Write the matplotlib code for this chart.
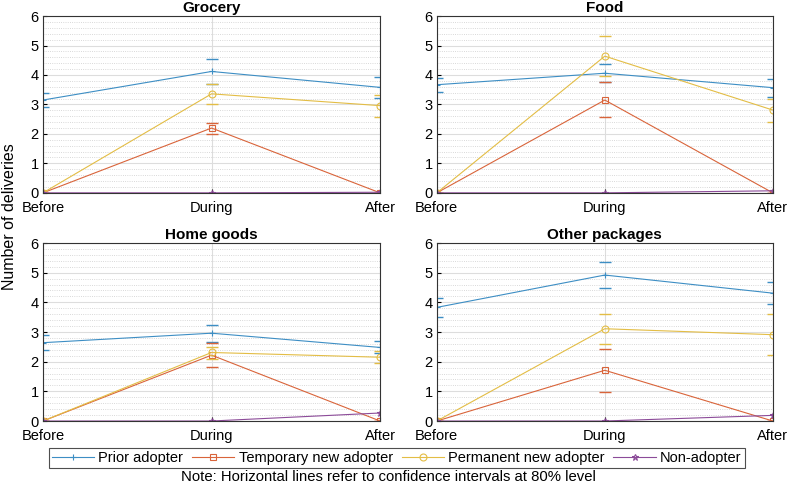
import matplotlib.pyplot as plt
import numpy as np

plt.rcParams['font.family'] = ['Liberation Sans', 'DejaVu Sans']

periods = ['Before', 'During', 'After']
panels = ['Grocery', 'Food', 'Home goods', 'Other packages']
groups = ['Prior adopter', 'Temporary new adopter', 'Permanent new adopter', 'Non-adopter']

# mean values per panel, rows = groups, cols = periods
grocery_mean = [[3.15, 4.12, 3.58], [0.0, 2.20, 0.0], [0.0, 3.36, 2.96], [0.0, 0.0, 0.02]]
grocery_hi = [[3.38, 4.54, 3.93], [0.0, 2.38, 0.0], [0.0, 3.71, 3.32], [0.0, 0.0, 0.02]]
grocery_lo = [[2.90, 3.71, 3.22], [0.0, 2.01, 0.0], [0.0, 3.02, 2.58], [0.0, 0.0, 0.02]]

food_mean = [[3.67, 4.06, 3.57], [0.0, 3.15, 0.0], [0.0, 4.64, 2.81], [0.0, 0.0, 0.07]]
food_hi = [[3.90, 4.39, 3.86], [0.0, 3.76, 0.0], [0.0, 5.32, 3.20], [0.0, 0.0, 0.07]]
food_lo = [[3.42, 3.75, 3.27], [0.0, 2.56, 0.0], [0.0, 3.96, 2.41], [0.0, 0.0, 0.07]]

home_mean = [[2.64, 2.96, 2.48], [0.0, 2.22, 0.0], [0.0, 2.31, 2.15], [0.0, 0.0, 0.27]]
home_hi = [[2.89, 3.24, 2.69], [0.0, 2.63, 0.0], [0.0, 2.50, 2.36], [0.0, 0.0, 0.27]]
home_lo = [[2.39, 2.66, 2.28], [0.0, 1.83, 0.0], [0.0, 2.10, 1.94], [0.0, 0.0, 0.27]]

other_mean = [[3.83, 4.92, 4.31], [0.0, 1.71, 0.0], [0.0, 3.11, 2.91], [0.0, 0.0, 0.19]]
other_hi = [[4.16, 5.36, 4.67], [0.0, 2.44, 0.0], [0.0, 3.60, 3.60], [0.0, 0.0, 0.19]]
other_lo = [[3.50, 4.48, 3.93], [0.0, 0.99, 0.0], [0.0, 2.60, 2.23], [0.0, 0.0, 0.19]]

colors = ['#3d8ec4', '#d9643a', '#e3bd45', '#8c4b99']
markers = ['+', 's', 'o', '*']

fig = plt.figure(figsize=(7.87, 4.87), dpi=100)
rects = [[0.0546, 0.604, 0.4284, 0.363], [0.555, 0.604, 0.427, 0.363],
         [0.0546, 0.1355, 0.4284, 0.3655], [0.555, 0.1355, 0.427, 0.3655]]
data = [(grocery_mean, grocery_hi, grocery_lo), (food_mean, food_hi, food_lo),
        (home_mean, home_hi, home_lo), (other_mean, other_hi, other_lo)]

x = np.arange(len(periods))
handles = []
for k, (title, (m, hi, lo)) in enumerate(zip(panels, data)):
    ax = fig.add_axes(rects[k])
    for g in range(len(groups)):
        h, = ax.plot(x, m[g], color=colors[g], marker=markers[g], ms=5, mfc='none',
                     lw=0.8, mew=0.8, label=groups[g])
        if g < 3:
            ax.plot(x, hi[g], ls='none', marker='_', ms=9, mew=1.0, color=colors[g])
            ax.plot(x, lo[g], ls='none', marker='_', ms=9, mew=1.0, color=colors[g])
        if k == 0:
            handles.append(h)
    ax.set_xlim(0, 2)
    ax.set_ylim(0, 6)
    ax.set_xticks(x)
    ax.set_xticklabels(periods)
    ax.set_yticks(range(7))
    ax.set_yticks(np.arange(0, 6.01, 0.2), minor=True)
    ax.grid(True, which='major', color='#dddddd', lw=0.8)
    ax.grid(True, which='minor', axis='y', color='#cccccc', ls=':', lw=0.6)
    ax.tick_params(labelsize=10.5, length=3, direction='in')
    ax.tick_params(axis='x', pad=6)
    ax.tick_params(axis='y', pad=3)
    ax.tick_params(which='minor', length=0)
    ax.set_axisbelow(True)
    for s in ax.spines.values():
        s.set_color('#333333')
        s.set_linewidth(0.8)
    ax.set_title(title, fontsize=11, fontweight='bold', pad=3)

fig.text(0.012, 0.555, 'Number of deliveries', rotation=90, va='center', ha='center', fontsize=11.5)

leg = fig.legend(handles=handles, loc='center', bbox_to_anchor=(0.504, 0.0595), ncol=4,
                 fontsize=10.5, frameon=True, fancybox=False, edgecolor='#222222',
                 handlelength=2.9, handletextpad=0.3, columnspacing=0.6,
                 borderpad=0.2, borderaxespad=0)
leg.get_frame().set_linewidth(0.8)

fig.text(0.494, 0.02, 'Note: Horizontal lines refer to confidence intervals at 80% level',
         ha='center', va='center', fontsize=10.7)

fig.savefig('out.png', dpi=100)
